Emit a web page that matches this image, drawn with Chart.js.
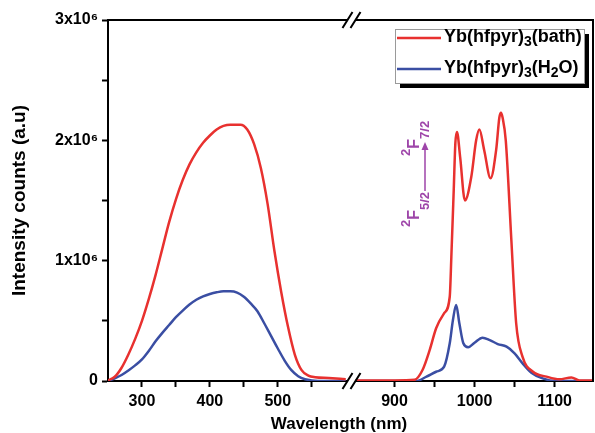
<!DOCTYPE html>
<html>
<head>
<meta charset="utf-8">
<script src="https://cdn.jsdelivr.net/npm/chart.js@4.4.0/dist/chart.umd.min.js"></script>
<style>
html, body { margin: 0; padding: 0; background: #fff; }
</style>
</head>
<body>
<canvas id="myChart" width="595" height="433"></canvas>
<script>
// emission spectra, wavelength in nm, intensity in counts
const seriesLabels = ['Yb(hfpyr)₃(bath)', 'Yb(hfpyr)₃(H₂O)'];

const bathLeftNm = [250, 260, 270, 280, 290, 300, 310, 320, 330, 340, 350, 360, 370, 380, 390, 400, 410, 420, 430, 445, 455, 465, 475, 485, 495, 505, 515, 525, 535, 545, 555, 575, 600];
const bathLeftCounts = [5e3, 35e3, 110e3, 220e3, 350e3, 500e3, 680e3, 880e3, 1.10e6, 1.32e6, 1.51e6, 1.67e6, 1.80e6, 1.90e6, 1.98e6, 2.04e6, 2.09e6, 2.12e6, 2.13e6, 2.13e6, 2.09e6, 1.97e6, 1.77e6, 1.47e6, 1.08e6, 740e3, 450e3, 220e3, 90e3, 45e3, 32e3, 25e3, 15e3];

const h2oLeftNm = [250, 260, 270, 280, 290, 300, 310, 320, 330, 340, 350, 360, 370, 380, 390, 400, 410, 420, 430, 440, 450, 460, 470, 480, 490, 500, 510, 520, 530, 540, 550, 570, 600];
const h2oLeftCounts = [0, 22e3, 50e3, 88e3, 130e3, 180e3, 250e3, 330e3, 400e3, 465e3, 530e3, 585e3, 635e3, 675e3, 703e3, 723e3, 737e3, 745e3, 745e3, 735e3, 700e3, 645e3, 580e3, 480e3, 375e3, 270e3, 170e3, 90e3, 40e3, 15e3, 5e3, 0, 0];

const bathRightNm = [845, 900, 925, 935, 944, 952, 962, 969, 971, 974, 976, 978, 982, 988, 996, 1002, 1006, 1012, 1020, 1027, 1031, 1033, 1035, 1039, 1046, 1052, 1060, 1073, 1090, 1106, 1121, 1131, 1148];
const bathRightCounts = [5e3, 5e3, 10e3, 91e3, 258e3, 438e3, 563e3, 700e3, 1.03e6, 1.59e6, 1.975e6, 2.07e6, 1.86e6, 1.50e6, 1.70e6, 2.00e6, 2.09e6, 1.92e6, 1.685e6, 1.92e6, 2.19e6, 2.23e6, 2.19e6, 2.00e6, 1.17e6, 480e3, 200e3, 77e3, 36e3, 14e3, 30e3, 5e3, 5e3];

const h2oRightNm = [845, 900, 927, 940, 952, 962, 969, 973, 977, 981, 986, 992, 1000, 1010, 1019, 1029, 1040, 1050, 1060, 1071, 1085, 1102, 1148];
const h2oRightCounts = [0, 0, 0, 36e3, 77e3, 119e3, 313e3, 507e3, 632e3, 480e3, 313e3, 280e3, 318e3, 360e3, 340e3, 307e3, 285e3, 230e3, 147e3, 69e3, 22e3, 0, 0];

const yTicks = [0, 0.5e6, 1e6, 1.5e6, 2e6, 2.5e6, 3e6];
const yTickLabels = ['0', '', '1x10⁶', '', '2x10⁶', '', '3x10⁶'];
const xTicksLeft = [300, 350, 400, 450, 500, 550];
const xTickLabelsLeft = ['300', '', '400', '', '500', ''];
const xTicksRight = [900, 950, 1000, 1050, 1100];
const xTickLabelsRight = ['900', '', '1000', '', '1100'];

const RED = '#e8312f';
const BLUE = '#3a4ea3';
const PURPLE = '#9e45a9';
const FONT = '"Liberation Sans", Arial, sans-serif';

function pts(xs, ys) {
  return xs.map((x, i) => ({ x: x, y: ys[i] }));
}

const SUB = '₀₁₂₃₄₅₆₇₈₉';
const SUP = '⁰¹²³⁴⁵⁶⁷⁸⁹';

// split a label into normal / sub / sup runs
function richParts(text) {
  const parts = [];
  for (const ch of text) {
    let mode = 0, c = ch, i = SUB.indexOf(ch);
    if (i >= 0) { mode = 1; c = String(i); }
    else if ((i = SUP.indexOf(ch)) >= 0) { mode = -1; c = String(i); }
    const last = parts[parts.length - 1];
    if (last && last.mode === mode) last.t += c;
    else parts.push({ t: c, mode: mode });
  }
  return parts;
}

function drawRich(c, parts, x, y, size, subSize, subDy, supDy) {
  for (const p of parts) {
    const s = p.mode ? subSize : size;
    c.font = 'bold ' + s + 'px ' + FONT;
    const dy = p.mode === 1 ? subDy : p.mode === -1 ? supDy : 0;
    c.fillText(p.t, x, y + dy);
    x += c.measureText(p.t).width;
  }
  return x;
}

const extras = {
  id: 'extras',
  afterDraw(chart) {
    const c = chart.ctx;
    const a = chart.chartArea;
    const split = chart.scales.xR.left;
    c.save();

    // frame top and right
    c.strokeStyle = '#000';
    c.lineWidth = 2;
    c.beginPath();
    c.moveTo(a.left, a.top);
    c.lineTo(a.right, a.top);
    c.lineTo(a.right, a.bottom);
    c.stroke();

    // axis breaks
    [a.top, a.bottom].forEach(yy => {
      c.fillStyle = '#fff';
      c.fillRect(split - 3, yy - 2, 8, 4);
      c.strokeStyle = '#000';
      c.lineWidth = 2;
      c.beginPath();
      c.moveTo(split - 8, yy + 8); c.lineTo(split + 2, yy - 8);
      c.moveTo(split, yy + 8); c.lineTo(split + 10, yy - 8);
      c.stroke();
    });

    // x title
    c.fillStyle = '#000';
    c.font = 'bold 17px ' + FONT;
    c.textAlign = 'center';
    c.textBaseline = 'middle';
    c.fillText('Wavelength (nm)', 339, 424);

    // legend
    const bx = 395, by = 29, bw = 189, bh = 54;
    c.fillStyle = '#000';
    c.fillRect(bx + 5, by + 5, bw, bh);
    c.fillStyle = '#fff';
    c.fillRect(bx, by, bw, bh);
    c.strokeStyle = '#9a9a9a';
    c.lineWidth = 1;
    c.strokeRect(bx + 0.5, by + 0.5, bw, bh);
    c.textAlign = 'left';
    c.textBaseline = 'middle';
    [[RED, 38], [BLUE, 69]].forEach((e, i) => {
      c.strokeStyle = e[0];
      c.lineWidth = 2.5;
      c.beginPath();
      c.moveTo(397, e[1]); c.lineTo(441, e[1]);
      c.stroke();
      c.fillStyle = '#000';
      drawRich(c, richParts(seriesLabels[i]), 444, e[1] - 1, 18, 14, 5, -6);
    });

    // transition label, rotated
    c.translate(419, 227);
    c.rotate(-Math.PI / 2);
    c.fillStyle = PURPLE;
    c.strokeStyle = PURPLE;
    c.textBaseline = 'alphabetic';
    let x = drawRich(c, [{ t: '2', mode: -1 }, { t: 'F', mode: 0 }, { t: '5/2', mode: 1 }], 0, 0, 16, 13, 10, -9);
    const ax0 = x + 1, ax1 = x + 50;
    c.lineWidth = 1.5;
    c.beginPath();
    c.moveTo(ax0, 6); c.lineTo(ax1 - 6, 6);
    c.stroke();
    c.beginPath();
    c.moveTo(ax1, 6); c.lineTo(ax1 - 8, 2.5); c.lineTo(ax1 - 8, 9.5); c.closePath();
    c.fill();
    drawRich(c, [{ t: '2', mode: -1 }, { t: 'F', mode: 0 }, { t: '7/2', mode: 1 }], ax1 - 14, 0, 16, 13, 10, -9);

    c.restore();
  }
};

const axisGrid = { drawOnChartArea: false, drawTicks: true, tickLength: 6, tickWidth: 2, color: '#000' };
const axisBorder = { color: '#000', width: 2 };
const tickFont = { family: FONT, size: 16, weight: 'bold' };

new Chart(document.getElementById('myChart'), {
  type: 'line',
  data: {
    datasets: [
      { label: seriesLabels[0], data: pts(bathLeftNm, bathLeftCounts), xAxisID: 'xL', borderColor: RED },
      { label: seriesLabels[1], data: pts(h2oLeftNm, h2oLeftCounts), xAxisID: 'xL', borderColor: BLUE },
      { label: seriesLabels[0], data: pts(bathRightNm, bathRightCounts), xAxisID: 'xR', borderColor: RED },
      { label: seriesLabels[1], data: pts(h2oRightNm, h2oRightCounts), xAxisID: 'xR', borderColor: BLUE }
    ]
  },
  options: {
    responsive: false,
    animation: false,
    layout: { padding: { left: 8, right: 2, top: 20, bottom: 22 } },
    elements: {
      point: { radius: 0 },
      line: { borderWidth: 2.5, cubicInterpolationMode: 'monotone', fill: false }
    },
    plugins: { legend: { display: false }, tooltip: { enabled: false } },
    scales: {
      xL: {
        type: 'linear', position: 'bottom', stack: 'wl', stackWeight: 1,
        min: 250, max: 607,
        afterBuildTicks: s => { s.ticks = xTicksLeft.map(v => ({ value: v })); },
        afterFit: s => { s.height = 30; },
        ticks: { color: '#000', font: tickFont, padding: 5, maxRotation: 0, autoSkip: false, callback: (v, i) => xTickLabelsLeft[i] },
        grid: axisGrid, border: axisBorder
      },
      xR: {
        type: 'linear', position: 'bottom', stack: 'wl', stackWeight: 1,
        min: 845, max: 1148,
        afterBuildTicks: s => { s.ticks = xTicksRight.map(v => ({ value: v })); },
        afterFit: s => { s.height = 30; },
        ticks: { color: '#000', font: tickFont, padding: 5, maxRotation: 0, autoSkip: false, callback: (v, i) => xTickLabelsRight[i] },
        grid: axisGrid, border: axisBorder
      },
      y: {
        min: 0, max: 3e6,
        afterBuildTicks: s => { s.ticks = yTicks.map(v => ({ value: v })); },
        afterFit: s => { s.width = 100; },
        ticks: { color: '#000', font: tickFont, padding: 4, autoSkip: false, callback: (v, i) => yTickLabels[i] },
        grid: axisGrid, border: axisBorder,
        title: { display: true, text: 'Intensity counts (a.u)', color: '#000', font: { family: FONT, size: 19, weight: 'bold' }, padding: 0 }
      }
    }
  },
  plugins: [extras]
});
</script>
</body>
</html>
